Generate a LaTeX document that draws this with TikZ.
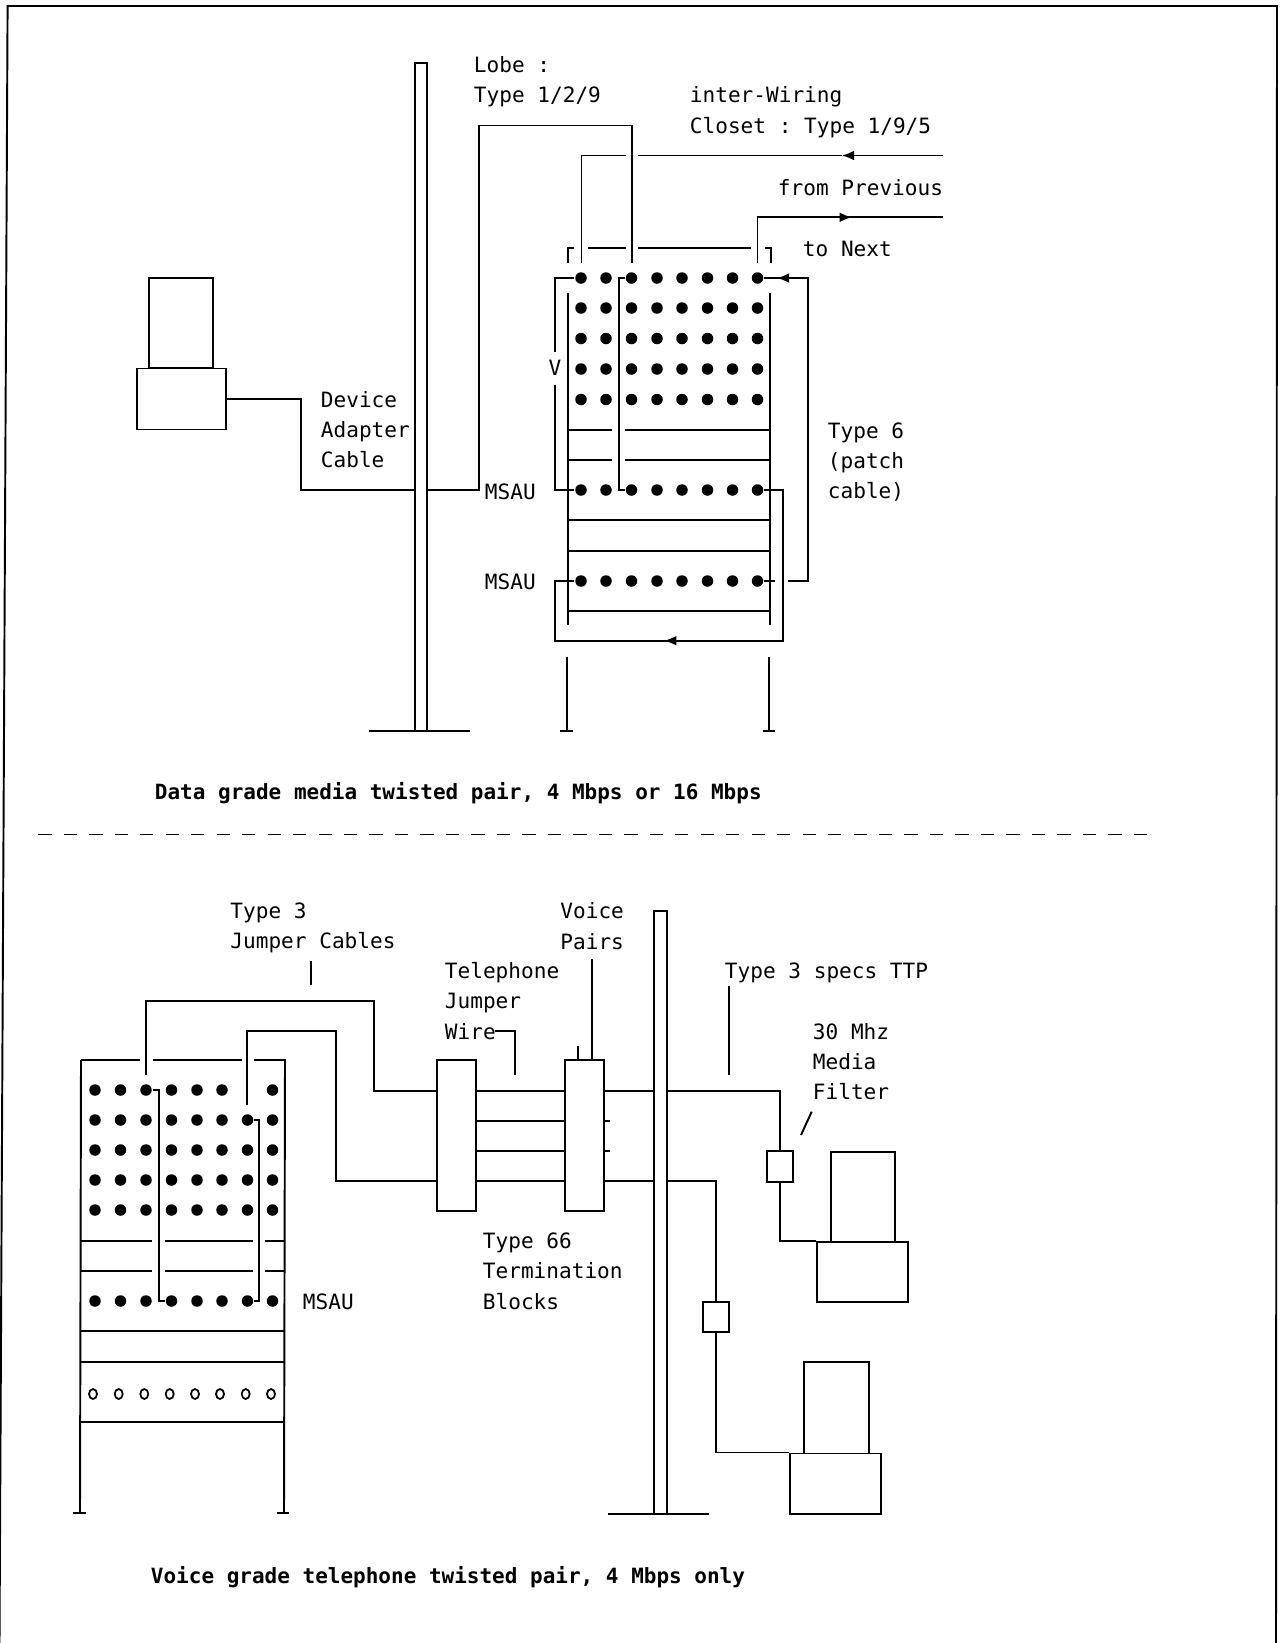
\documentclass[tikz,border=0pt]{standalone}
\usepackage{fontspec}
\setmonofont{DejaVu Sans Mono}
\usetikzlibrary{arrows.meta,shapes.geometric}

\begin{document}
\begin{tikzpicture}[
	x=0.02cm, y=-0.02cm,
	line width=1.1pt,
	unitbox/.style 2 args={
		draw, rectangle,
		inner sep=0pt,
		minimum width=#1*0.02cm,
		minimum height=#2*0.02cm
	},
	dotmark/.style={
		circle, fill=black,
		inner sep=0pt,
		minimum size=0.23cm
	},
	holemark/.style={
		draw, ellipse,
		inner sep=0pt,
		line width=1pt,
		minimum width=0.16cm,
		minimum height=0.2cm
	},
	label/.style={
		anchor=north west,
		align=left,
		inner sep=0pt,
		font=\ttfamily\fontsize{12}{17.2}\selectfont,
		execute at begin node=\strut,
		execute at end node=\strut
	},
	caption/.style={
		label,
		font=\ttfamily\bfseries\fontsize{11.95}{17.2}\selectfont
	},
	midtip/.style={-{Latex[length=7pt,width=5.5pt]}}
	]
	\useasboundingbox (0,0) rectangle (1287,1643);
	
	% frame and divider
	\draw (-0.5,1643) -- (7.6,6) -- (1277,6) -- (1276,1643);
	\draw[line width=0.9pt, dash pattern=on 7.55pt off 6.95pt] (38.3,834.5) -- (1148,834.5);
	
	% data grade: device and pole
	\node[unitbox={64}{90.6}] (monitora) at (181.3,323) {};
	\node[unitbox={89.3}{61}] (basea) at (181.3,399) {};
	\node[unitbox={12.3}{668}] (polea) at (421.2,396.8) {};
	\draw (369,731) -- (470,731);
	
	% data grade: rack
	\draw (568,293) -- (568,625);
	\draw (770,293) -- (770,625);
	\draw (568,263) -- (568,247.7) -- (574,247.7);
	\draw (588,247.7) -- (626,247.7);
	\draw (638,247.7) -- (750.7,247.7);
	\draw (765,247.7) -- (770.7,247.7) -- (770.7,263);
	\draw (568,430) -- (612,430);
	\draw (625,430) -- (770,430);
	\draw (568,460) -- (612,460);
	\draw (625,460) -- (770,460);
	\draw (568,520) -- (770,520);
	\draw (568,550.7) -- (770,550.7);
	\draw (568,610.7) -- (770,610.7);
	\draw (567,656.7) -- (567,731);
	\draw (560,731) -- (573,731);
	\draw (769,656.7) -- (769,731);
	\draw (762.7,731) -- (775,731);
	
	\foreach \y/\r in {278/a,308/b,338.5/c,369/d,399.5/e,490/m,581/n}
		\foreach \x/\c in {581/1,606/2,631.5/3,657/4,682/5,707.5/6,732.5/7,757.5/8}
			\node[dotmark] (u\r\c) at (\x,\y) {};
	
	% data grade: wiring
	\coordinate (lobeend) at (632,263);
	\coordinate (prevstart) at (943,155.5);
	\coordinate (prevtip) at (841.7,155.5);
	\coordinate (prevend) at (581.5,263);
	\coordinate (nextend) at (943,217.3);
	\coordinate (nexttip) at (852,217.3);
	\coordinate (nextstart) at (757.5,263);
	\coordinate (patchstart) at (788,581);
	\coordinate (patchtip) at (776.7,278);
	\coordinate (looptip) at (664,640.7);
	
	\draw (basea.east) -| (301,490) -- (polea.west |- 301,490);
	\draw (polea.east |- 479,490) -| (479,125.5) -| (lobeend);
	\draw[midtip] (prevstart) -- (prevtip);
	\draw (prevtip) -- (638,155.5);
	\draw (626,155.5) -| (prevend);
	\draw (nextstart) |- (nexttip);
	\draw[midtip] (nextstart |- nexttip) -- (nexttip);
	\draw (nexttip) -- (nextend);
	\draw (ua1) -| (555,351.7);
	\draw (555,385) |- (um1);
	\node[label, anchor=center, minimum height=0.66cm, execute at begin node={}, execute at end node={}] (vmark) at (555,369) {V};
	\draw (ua3) -| (619,490) -- (um3);
	\draw (um8) -| (782.7,640.7) -- (looptip);
	\draw[midtip] (782.7,640.7) -- (looptip);
	\draw (looptip) -| (554.7,581) -- (un1);
	\draw (un8) -- (775,581);
	\draw (patchstart) -| (808.3,278) -- (patchtip);
	\draw[midtip] (808.3,278) -- (patchtip);
	\draw (patchtip) -- (ua8);
	
	% data grade: labels
	\node[label] (lobe) at (473,55.5) {Lobe :\\Type 1/2/9};
	\node[label] (closet) at (689,86) {inter-Wiring\\Closet : Type 1/9/5};
	\node[label] (previous) at (777,173) {from Previous};
	\node[label] (tonext) at (802,234) {to Next};
	\node[label] (adapter) at (320,390.5) {Device\\Adapter\\Cable};
	\node[label] (patch) at (827,421.5) {Type 6\\(patch\\cable)};
	\node[label] (msaua) at (484,477.5) {MSAU};
	\node[label] (msaub) at (484,567) {MSAU};
	\node[caption] (datacap) at (154,777.5) {Data grade media twisted pair, 4 Mbps or 16 Mbps};
	
	% voice grade: rack
	\draw (81,1060) -- (140,1060);
	\draw (153.3,1060) -- (242,1060);
	\draw (254,1060) -- (285,1060) -- (284,1513);
	\draw (81,1060) -- (80,1513);
	\draw (73,1513) -- (86,1513);
	\draw (276.7,1513) -- (289.3,1513);
	\draw (81,1240.7) -- (151.7,1240.7);
	\draw (165,1240.7) -- (252.7,1240.7);
	\draw (265,1240.7) -- (284,1240.7);
	\draw (81,1271) -- (151.7,1271);
	\draw (165,1271) -- (252.7,1271);
	\draw (265,1271) -- (284,1271);
	\draw (81,1331) -- (284,1331);
	\draw (81,1361.7) -- (284,1361.7);
	\draw (81,1421.7) -- (284,1421.7);
	
	\foreach \x/\c in {95/1,120.5/2,146/3,171.5/4,197/5,222/6,272.5/8}
		\node[dotmark] (va\c) at (\x,1090) {};
	\foreach \y/\r in {1120/b,1150/c,1180/d,1210/e,1301/m}
		\foreach \x/\c in {95/1,120.5/2,146/3,171.5/4,197/5,222/6,247.5/7,272.5/8}
			\node[dotmark] (v\r\c) at (\x,\y) {};
	\foreach \x/\c in {93/1,118.7/2,144.3/3,169.7/4,195/5,220/6,245.7/7,271/8}
		\node[holemark] (vo\c) at (\x,1394) {};
	
	% voice grade: blocks, pole and devices
	\node[unitbox={39.3}{150.7}] (blocka) at (456.3,1135.3) {};
	\node[unitbox={39}{150.7}] (blockb) at (584.5,1135.3) {};
	\node[unitbox={13}{603}] (poleb) at (660.8,1212.5) {};
	\draw (608,1514) -- (708.5,1514);
	\node[unitbox={26.6}{30.7}] (filtera) at (780,1166.3) {};
	\node[unitbox={25.5}{30.5}] (filterb) at (716,1316.8) {};
	\node[unitbox={64.6}{90}] (monitorb) at (863,1196.7) {};
	\node[unitbox={91}{60.3}] (baseb) at (862.8,1271.8) {};
	\node[unitbox={65}{91.5}] (monitorc) at (836.5,1407.7) {};
	\node[unitbox={91.5}{60.5}] (basec) at (835.7,1483.7) {};
	
	% voice grade: wiring
	\coordinate (jumpera) at (146.3,1075);
	\coordinate (jumperb) at (247.3,1105);
	\coordinate (rowa) at (476,1091);
	\coordinate (rowb) at (476,1121);
	\coordinate (rowc) at (476,1151);
	\coordinate (rowd) at (476,1181);
	
	\draw (jumpera) |- (373.7,1000.7) |- (blocka.west |- rowa);
	\draw (jumperb) |- (336,1031) |- (blocka.west |- rowd);
	\draw (va3) -| (159,1301) -- (vm4);
	\draw (vb7) -| (259.3,1301) -- (vm7);
	\draw (blocka.east |- rowa) -- (blockb.west |- rowa);
	\draw (blocka.east |- rowb) -- (blockb.west |- rowb);
	\draw (blocka.east |- rowc) -- (blockb.west |- rowc);
	\draw (blocka.east |- rowd) -- (blockb.west |- rowd);
	\draw (blockb.east |- rowb) -- +(5.3,0);
	\draw (blockb.east |- rowc) -- +(5.3,0);
	\draw (blockb.east |- rowa) -- (poleb.west |- rowa);
	\draw (blockb.east |- rowd) -- (poleb.west |- rowd);
	\draw (poleb.east |- rowa) -| (filtera.north);
	\draw (poleb.east |- rowd) -| (filterb.north);
	\draw (filtera.south) |- (baseb.north west);
	\draw (filterb.south) |- (basec.north west);
	
	% voice grade: pointers
	\coordinate (voicestart) at (591.7,959);
	\coordinate (blocktick) at (578.3,1046);
	\coordinate (jumperstart) at (311,961);
	\coordinate (jumperstop) at (311,985);
	\coordinate (specstart) at (729.3,986);
	\coordinate (specstop) at (729.3,1075);
	\coordinate (wirestart) at (495,1030.7);
	\coordinate (wirestop) at (515,1075);
	\coordinate (filterstart) at (811.7,1111.7);
	\coordinate (filterstop) at (801,1135);
	
	\draw (voicestart) -- (voicestart |- blockb.north);
	\draw (blocktick) -- (blocktick |- blockb.north);
	\draw (jumperstart) -- (jumperstop);
	\draw (specstart) -- (specstop);
	\draw (wirestart) -| (wirestop);
	\draw (filterstart) -- (filterstop);
	
	% voice grade: labels
	\node[label] (typethree) at (229.5,902) {Type 3\\Jumper Cables};
	\node[label] (telephone) at (444,961.5) {Telephone\\Jumper\\Wire};
	\node[label] (voicepairs) at (559.5,902) {Voice\\Pairs};
	\node[label] (specs) at (724,956) {Type 3 specs TTP};
	\node[label] (filter) at (812,1022) {30 Mhz\\Media\\Filter};
	\node[label] (termination) at (482,1232) {Type 66\\Termination\\Blocks};
	\node[label] (msauc) at (302,1287.5) {MSAU};
	\node[caption] (voicecap) at (150,1561.5) {Voice grade telephone twisted pair, 4 Mbps only};
	
\end{tikzpicture}
\end{document}
